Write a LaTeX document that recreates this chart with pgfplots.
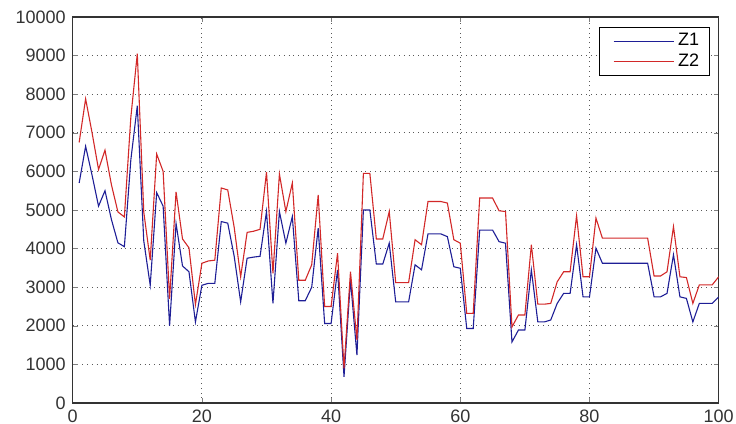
\documentclass[border=0pt]{standalone}
\usepackage{pgfplots}
\pgfplotsset{compat=1.18}
\usepackage{pgfplotstable}
\usepackage{fontspec}
\setmainfont{Liberation Sans}
\definecolor{zone}{RGB}{30,30,150}
\definecolor{ztwo}{RGB}{210,40,40}
\pgfplotstableread{
x z1 z2
1 5700 6750
2 6650 7880
3 5900 7000
4 5100 6050
5 5500 6550
6 4750 5650
7 4150 4950
8 4050 4820
9 6300 7400
10 7700 9050
11 4200 4950
12 3050 3700
13 5450 6450
14 5100 6000
15 2000 2700
16 4650 5470
17 3550 4250
18 3400 4020
19 2100 2550
20 3050 3620
21 3100 3680
22 3100 3700
23 4700 5570
24 4660 5520
25 3800 4550
26 2620 3270
27 3750 4420
28 3780 4450
29 3800 4500
30 4960 5980
31 2580 3360
32 4960 5930
33 4140 4960
34 4830 5700
35 2650 3180
36 2650 3180
37 3000 3580
38 4530 5390
39 2060 2500
40 2060 2500
41 3450 3880
42 680 900
43 3190 3400
44 1240 1630
45 5000 5950
46 5000 5950
47 3600 4250
48 3600 4250
49 4140 4960
50 2620 3120
51 2620 3120
52 2620 3120
53 3580 4230
54 3450 4100
55 4380 5220
56 4380 5220
57 4380 5220
58 4310 5180
59 3530 4230
60 3490 4140
61 1930 2320
62 1930 2320
63 4480 5310
64 4480 5310
65 4480 5310
66 4180 4980
67 4140 4960
68 1580 1970
69 1890 2280
70 1890 2280
71 3450 4100
72 2100 2560
73 2100 2560
74 2150 2580
75 2580 3140
76 2840 3400
77 2840 3400
78 4100 4850
79 2750 3270
80 2750 3270
81 4010 4790
82 3620 4270
83 3620 4270
84 3620 4270
85 3620 4270
86 3620 4270
87 3620 4270
88 3620 4270
89 3620 4270
90 2750 3290
91 2750 3290
92 2840 3400
93 3840 4570
94 2750 3270
95 2710 3250
96 2100 2580
97 2580 3060
98 2580 3060
99 2580 3060
100 2750 3270
}\datatable
\begin{document}
\begin{tikzpicture}
\begin{axis}[
  scale only axis,
  width=323pt, height=193pt,
  xmin=0, xmax=100, ymin=0, ymax=10000,
  xtick={0,20,40,60,80,100},
  ytick={0,1000,...,10000},
  scaled y ticks=false,
  /pgf/number format/set thousands separator={},
  /pgf/number format/assume math mode=true,
  ticklabel style={font=\fontsize{9}{10}\selectfont, text=black!80},
  tick align=inside,
  major tick length=2.5pt,
  grid=major,
  major grid style={dotted, black!65, line width=0.5pt},
  axis line style={black!80, line width=0.6pt},
  legend style={at={(rel axis cs:1,1)}, xshift=-4.5pt, yshift=-5pt, anchor=north east,
    font=\fontsize{9}{10}\selectfont, draw=black, line width=0.5pt, inner xsep=3pt, inner ysep=1pt,
    row sep=-1.5pt},
  legend cell align=left,
  legend image code/.code={\path (-4pt,0pt); \draw[#1, line width=0.5pt] (0pt,0pt) -- (30pt,0pt);},
]
\addplot[zone, line width=0.55pt] table[x=x, y=z1] {\datatable};
\addlegendentry{Z1}
\addplot[ztwo, line width=0.55pt] table[x=x, y=z2] {\datatable};
\addlegendentry{Z2}
\end{axis}
\pgfresetboundingbox
\path (-36.35pt,-10.5pt) rectangle (331.65pt,201.5pt);
\end{tikzpicture}
\end{document}
